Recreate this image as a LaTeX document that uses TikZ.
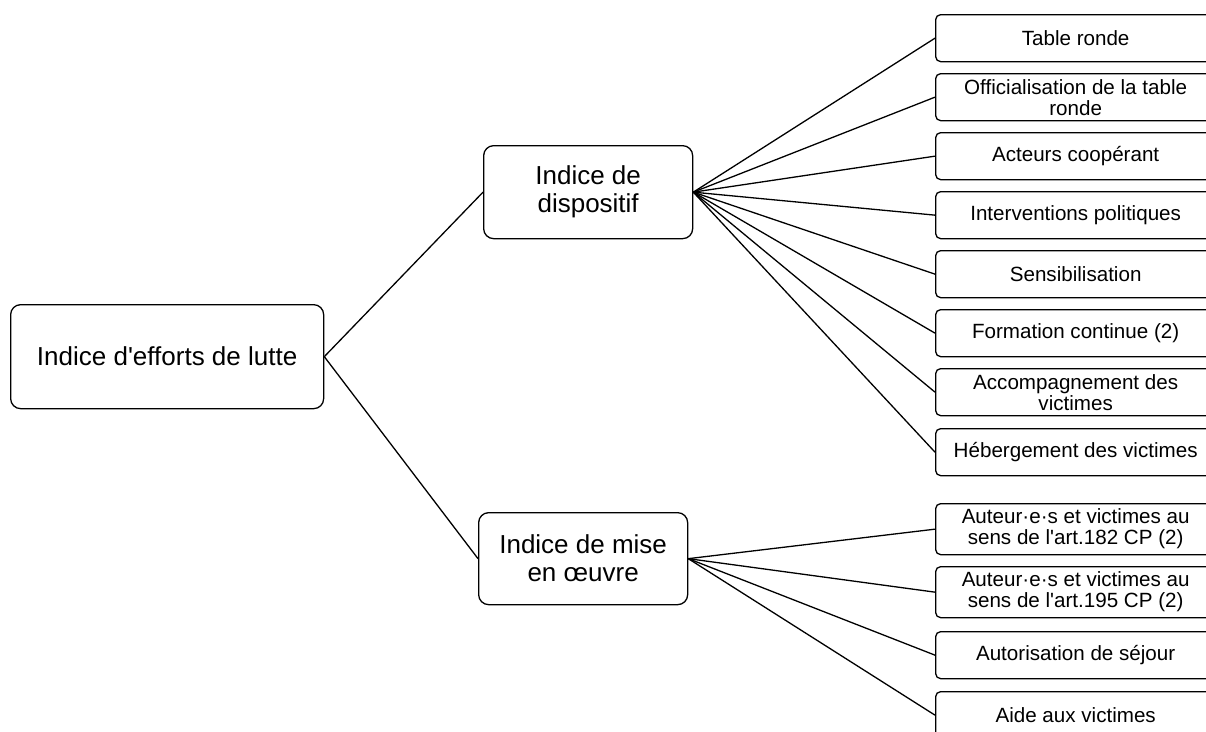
\documentclass[tikz,border=0pt]{standalone}
\usepackage{fontspec}
\setmainfont{Liberation Sans}[Ligatures=TeXOff]
\begin{document}
\begin{tikzpicture}[x=1pt,y=-1pt,
  box/.style={draw, line width=1.3pt, rounded corners=10pt, align=center, inner sep=0pt, anchor=north west},
  rootbox/.style={box, minimum width=313pt, minimum height=104pt, font=\fontsize{26}{28}\selectfont},
  midbox/.style={box, minimum width=209pt, minimum height=93pt, font=\fontsize{26}{28}\selectfont},
  leaf/.style={box, rounded corners=5pt, minimum width=280pt, minimum height=47pt, font=\fontsize{20.6}{21}\selectfont},
  leafB/.style={leaf, minimum height=51pt},
  link/.style={line width=1.3pt}]
\useasboundingbox (0,0) rectangle (1206,731);
\clip (0,0) rectangle (1206,731);
\node[rootbox] (root) at (10,304) {Indice d'efforts de lutte};
\node[midbox] (disp) at (483,145) {Indice de\\dispositif};
\node[midbox, minimum height=92pt] (mise) at (478,512) {Indice de mise\\en œuvre};
\node[leaf] (l1) at (935,14) {Table ronde};
\node[leaf] (l2) at (935,73) {Officialisation de la table\\ronde};
\node[leaf] (l3) at (935,132) {Acteurs coopérant};
\node[leaf] (l4) at (935,191) {Interventions politiques};
\node[leaf] (l5) at (935,250) {Sensibilisation};
\node[leaf] (l6) at (935,309) {Formation continue (2)};
\node[leaf] (l7) at (935,368) {Accompagnement des\\victimes};
\node[leaf] (l8) at (935,428) {Hébergement des victimes};
\node[leafB] (m1) at (935,503) {Auteur·e·s et victimes au\\sens de l'art.182 CP (2)};
\node[leafB] (m2) at (935,566) {Auteur·e·s et victimes au\\sens de l'art.195 CP (2)};
\node[leaf] (m3) at (935,631) {Autorisation de séjour};
\node[leaf] (m4) at (935,691) {Aide aux victimes};
\draw[link] (root.east) -- (disp.west);
\draw[link] (root.east) -- (mise.west);
\foreach \n in {l1,l2,l3,l4,l5,l6,l7,l8} \draw[link] (disp.east) -- (\n.west);
\foreach \n in {m1,m2,m3,m4} \draw[link] (mise.east) -- (\n.west);
\end{tikzpicture}
\end{document}
